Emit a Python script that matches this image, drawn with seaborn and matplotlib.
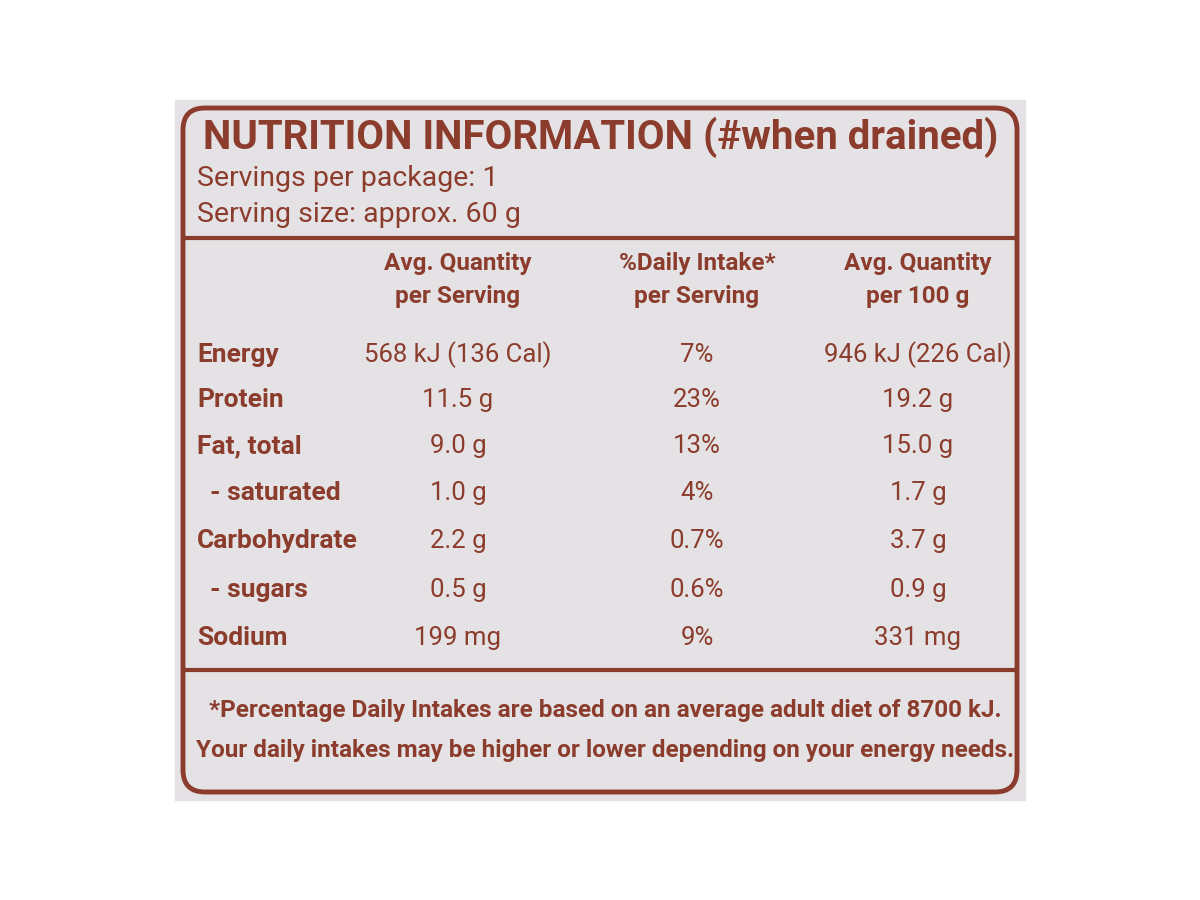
import matplotlib.pyplot as plt
import seaborn as sns
from matplotlib.patches import FancyBboxPatch, Rectangle

sns.set_theme(style="white")
plt.rcParams['font.family'] = ['Roboto', 'DejaVu Sans']

brown = "#8c3c2c"
panel = "#e4e2e4"

title = "NUTRITION INFORMATION (#when drained)"
servings = ["Servings per package: 1", "Serving size: approx. 60 g"]
headers = ["Avg. Quantity\nper Serving", "%Daily Intake*\nper Serving", "Avg. Quantity\nper 100 g"]
nutrients = ["Energy", "Protein", "Fat, total", "  - saturated", "Carbohydrate", "  - sugars", "Sodium"]
per_serving = ["568 kJ (136 Cal)", "11.5 g", "9.0 g", "1.0 g", "2.2 g", "0.5 g", "199 mg"]
daily_intake = ["7%", "23%", "13%", "4%", "0.7%", "0.6%", "9%"]
per_100g = ["946 kJ (226 Cal)", "19.2 g", "15.0 g", "1.7 g", "3.7 g", "0.9 g", "331 mg"]
footnote = ["*Percentage Daily Intakes are based on an average adult diet of 8700 kJ.",
            "Your daily intakes may be higher or lower depending on your energy needs."]

fig = plt.figure(figsize=(12, 9), dpi=100)
ax = fig.add_axes([0, 0, 1, 1])
ax.set_xlim(0, 1200)
ax.set_ylim(900, 0)
ax.axis("off")

ax.add_patch(Rectangle((175, 100), 850, 700, color=panel, zorder=0))
ax.add_patch(FancyBboxPatch((183, 108), 834, 684, boxstyle="round,pad=0,rounding_size=22",
                            fill=False, ec=brown, lw=3.5))
for y in (238, 670):
    ax.plot([183, 1017], [y, y], color=brown, lw=3)

ax.text(203, 137, title, color=brown, fontsize=29, fontweight="bold", va="center")
for i, s in enumerate(servings):
    ax.text(197, 179 + 35 * i, s, color=brown, fontsize=20.5, va="center")

cols = [458, 697, 918]
for x, h in zip(cols, headers):
    ax.text(x, 280, h, color=brown, fontsize=17.5, fontweight="bold", ha="center", va="center",
            linespacing=1.6)

row_y = [355, 400, 446, 493, 541, 590, 638]
for y, name, a, b, c in zip(row_y, nutrients, per_serving, daily_intake, per_100g):
    ax.text(197, y, name, color=brown, fontsize=19, fontweight="bold", va="center")
    for x, v in zip(cols, (a, b, c)):
        ax.text(x, y, v, color=brown, fontsize=18.5, ha="center", va="center")

for i, line in enumerate(footnote):
    ax.text(605, 710 + 40 * i, line, color=brown, fontsize=17.5, fontweight="bold",
            ha="center", va="center")

fig.savefig("out.png", dpi=100, facecolor="white")
